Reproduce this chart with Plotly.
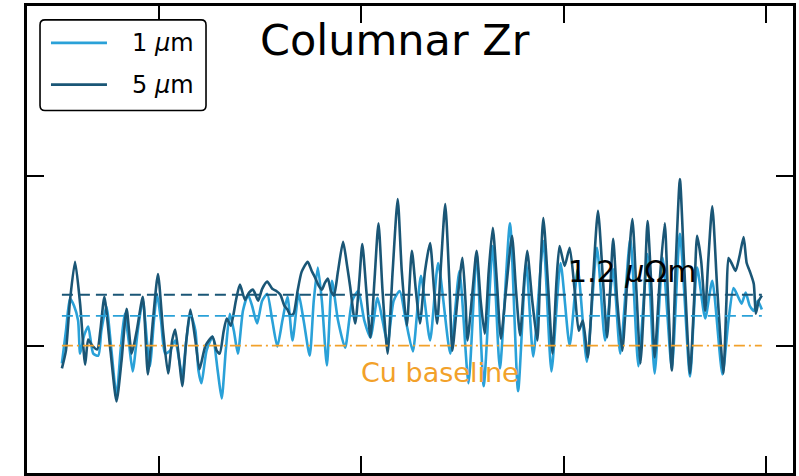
import plotly.graph_objects as go

# Resistivity rise along the scan for two Zr column widths (baseline = Cu)
X_1UM = [4, 8, 12, 16, 20, 22, 26, 30, 35, 40,
         43, 48, 53, 58, 62, 66, 70, 74, 79, 84,
         88, 91, 95, 98, 102, 106, 111, 116, 120, 123,
         127, 131, 136, 139, 142, 147, 153, 158, 162, 166,
         170, 174, 178, 183, 188, 192, 197, 202, 207, 212,
         217, 222, 227, 232, 238, 243, 249, 253, 257, 261,
         266, 271, 277, 284, 291, 297, 303, 309, 316, 321,
         326, 332, 338, 344, 351, 359, 368, 376, 388, 397,
         406, 414, 421, 430, 437, 447, 455, 463, 470, 480,
         488, 497, 506, 514, 523, 533, 541, 549, 556, 566,
         574, 583, 590, 598, 607, 615, 625, 632, 640, 647,
         657, 663, 668, 672, 676, 680, 684, 688, 692, 696]
Y_1UM = [-0.42, 0.35, 1.11, 0.94, 0.59, -0.19, 0.24, 0.45, -0.19, -0.24,
         0.35, 0.92, -0.12, -1.20, -0.12, 0.75, 0.12, -0.61, 0.35, 1.08,
         0.12, -0.49, 0.59, 1.22, 0.59, -0.19, -0.12, 0.12, -0.35, -0.73,
         0.12, 0.75, 0.35, -0.59, -0.89, -0.12, 0.21, -0.59, -1.25, -0.12,
         0.75, 0.35, -0.19, 0.82, 1.20, 0.94, 0.52, 1.06, 1.22, 0.59,
         -0.02, 0.59, 1.15, 0.12, 1.22, 0.59, -0.24, 1.06, 1.84, 1.06,
         -0.47, 1.53, 0.59, -0.05, 1.06, 1.29, 0.59, 0.19, 1.13, 0.59,
         0.05, 1.06, 1.29, 0.59, -0.14, 1.65, 0.12, 1.95, -0.19, 1.76,
         -0.89, 2.16, -0.96, 2.35, -0.54, 2.89, -1.08, 1.95, -0.26, 2.47,
         -0.61, 1.95, 0.00, 1.81, -0.38, 2.31, 0.12, 1.81, -0.19, 2.54,
         -0.49, 2.16, -0.66, 2.07, -0.54, 2.64, -0.73, 1.84, 0.64, 1.53,
         -0.68, 0.59, 1.36, 1.18, 0.99, 1.25, 0.94, 0.82, 1.06, 0.85]

X_5UM = [4, 8, 12, 17, 22, 27, 30, 34, 39, 42,
         46, 52, 58, 63, 68, 73, 78, 84, 89, 94,
         99, 104, 109, 113, 116, 120, 123, 127, 131, 136,
         140, 146, 153, 157, 160, 164, 167, 171, 176, 180,
         185, 189, 193, 198, 202, 207, 212, 216, 220, 224,
         227, 230, 233, 237, 241, 247, 251, 254, 258, 261,
         264, 267, 270, 273, 277, 282, 286, 289, 294, 298,
         301, 305, 309, 313, 317, 321, 326, 331, 336, 340,
         345, 350, 354, 358, 363, 368, 372, 375, 379, 383,
         387, 390, 395, 400, 403, 405, 410, 414, 418, 422,
         426, 430, 434, 438, 443, 449, 453, 457, 461, 464,
         469, 474, 477, 480, 485, 489, 493, 496, 501, 506,
         511, 515, 519, 524, 529, 534, 539, 543, 546, 549,
         553, 558, 563, 568, 572, 576, 580, 583, 587, 590,
         595, 600, 603, 607, 611, 615, 619, 625, 629, 632,
         636, 640, 643, 647, 652, 658, 661, 663, 666, 670,
         674, 678, 681, 684, 688, 690, 693, 696]
Y_5UM = [-0.54, -0.12, 1.06, 1.98, 0.99, -0.45, 0.14, 0.00, -0.09, 0.35,
         1.15, -0.12, -1.32, -0.35, 0.87, -0.19, 0.35, 1.15, -0.68, 0.59,
         1.69, 0.35, -0.66, 0.12, 0.38, -0.35, -0.96, 0.12, 0.85, 0.12,
         -0.56, 0.00, 0.21, -0.12, -0.19, 0.35, 0.64, 0.47, 1.06, 1.44,
         1.08, 1.25, 1.32, 1.06, 1.34, 1.51, 1.34, 1.29, 1.20, 0.94,
         0.85, 0.71, 0.75, 1.29, 1.74, 1.98, 1.76, 1.62, 1.41, 1.32,
         1.48, 1.58, 1.29, 1.18, 1.76, 2.45, 1.88, 1.39, 0.52, 1.53,
         2.40, 1.29, 0.19, 1.53, 2.89, 1.29, -0.19, 1.76, 3.46, 1.76,
         0.47, 2.24, 1.29, 0.52, 1.76, 2.42, 1.29, 0.52, 2.00, 3.34,
         1.53, -0.12, 1.06, 2.07, 1.06, 0.12, 1.29, 2.24, 1.06, 0.28,
         1.76, 2.78, 1.53, 0.16, 1.29, 2.59, 1.29, 0.24, 1.53, 2.24,
         1.06, 0.12, 1.76, 3.01, 1.29, -0.19, 1.53, 2.35, 1.88, 2.31,
         1.29, 0.35, 0.59, -0.28, 1.53, 3.18, 1.53, 0.19, 1.29, 2.52,
         1.06, -0.12, 1.53, 2.99, 1.29, -0.42, 1.29, 2.94, 1.29, -0.28,
         1.53, 2.89, 1.29, -0.59, 2.00, 3.93, 2.00, -0.66, 1.06, 2.59,
         2.00, 0.82, 2.00, 3.29, 1.29, -0.66, 1.06, 2.07, 1.95, 1.76,
         2.12, 2.56, 1.95, 1.76, 1.46, 0.75, 1.06, 1.18]

# Mean levels and reference
MEAN_1UM = 0.7
MEAN_5UM = 1.2
CU_BASELINE = 0.0
SCAN_START, SCAN_END = 4, 696

SERIES_NAMES = ["1 <i>μ</i>m", "5 <i>μ</i>m"]

X_TICKS = [100, 300, 500, 700]
Y_TICKS = [0, 4]
X_RANGE = [-30.5, 726.8]
Y_RANGE = [-3.01, 8.02]

C_1UM = "#2aa1d8"
C_5UM = "#1a5676"
C_CU = "#f2a12a"
FONT = "DejaVu Sans"
LW = 2.6

fig = go.Figure()

fig.add_trace(go.Scatter(x=X_1UM, y=Y_1UM, mode="lines", name=SERIES_NAMES[0], showlegend=False,
                         line=dict(color=C_1UM, width=LW, shape="spline", smoothing=0.6)))
fig.add_trace(go.Scatter(x=X_5UM, y=Y_5UM, mode="lines", name=SERIES_NAMES[1], showlegend=False,
                         line=dict(color=C_5UM, width=LW, shape="spline", smoothing=0.6)))

# mean levels as dashed lines across the scan
for level, col in ((MEAN_5UM, C_5UM), (MEAN_1UM, C_1UM)):
    fig.add_trace(go.Scatter(x=[SCAN_START, SCAN_END], y=[level, level], mode="lines",
                             showlegend=False, hoverinfo="skip",
                             line=dict(color=col, width=1.8, dash="11px,6px")))

# copper reference
fig.add_trace(go.Scatter(x=[SCAN_START, SCAN_END], y=[CU_BASELINE, CU_BASELINE], mode="lines",
                         showlegend=False, hoverinfo="skip",
                         line=dict(color=C_CU, width=1.8, dash="11px,4px,2px,4px")))

fig.add_annotation(x=378, y=CU_BASELINE - 0.64, text="Cu baseline", showarrow=False,
                   font=dict(family=FONT, size=27, color=C_CU), xanchor="center", yanchor="middle")
fig.add_annotation(x=568, y=MEAN_5UM + 0.56, text=f"{MEAN_5UM:.1f} <i>μ</i>Ωm", showarrow=False,
                   font=dict(family=FONT, size=30, color="black"), xanchor="center", yanchor="middle")

# legend box with rounded corners (paper coordinates)
bx0, bx1, by0, by1 = 0.0170, 0.2337, 0.7761, 0.9702
rx, ry = 0.0065, 0.0107
box_path = (f"M{bx0+rx},{by1} L{bx1-rx},{by1} Q{bx1},{by1} {bx1},{by1-ry} "
            f"L{bx1},{by0+ry} Q{bx1},{by0} {bx1-rx},{by0} L{bx0+rx},{by0} "
            f"Q{bx0},{by0} {bx0},{by0+ry} L{bx0},{by1-ry} Q{bx0},{by1} {bx0+rx},{by1} Z")
fig.add_shape(type="path", path=box_path, xref="paper", yref="paper",
              line=dict(color="black", width=1.6), fillcolor="white", layer="above")
for name, col, ly in ((SERIES_NAMES[0], C_1UM, 0.9211), (SERIES_NAMES[1], C_5UM, 0.8316)):
    fig.add_shape(type="line", xref="paper", yref="paper", x0=0.0313, x1=0.1044, y0=ly, y1=ly,
                  line=dict(color=col, width=LW), layer="above")
    fig.add_annotation(xref="paper", yref="paper", x=0.1345, y=ly, text=name, showarrow=False,
                       xanchor="left", yanchor="middle",
                       font=dict(family=FONT, size=24, color="black"))

axis_common = dict(showline=True, linecolor="black", linewidth=2.5, mirror="ticks",
                   ticks="inside", ticklen=17, tickwidth=2, tickcolor="black",
                   showticklabels=False, showgrid=False, zeroline=False)

fig.update_xaxes(range=X_RANGE, tickvals=X_TICKS, **axis_common)
fig.update_yaxes(range=Y_RANGE, tickvals=Y_TICKS, **axis_common)

fig.update_layout(
    width=799, height=476,
    margin=dict(l=27, r=6, t=4, b=3),
    paper_bgcolor="white", plot_bgcolor="white",
    title=dict(text="Columnar Zr", x=0.494, xanchor="center", y=0.916, yanchor="middle",
               font=dict(family=FONT, size=43, color="black")),
    showlegend=False,
)

fig.write_html("out.html")
